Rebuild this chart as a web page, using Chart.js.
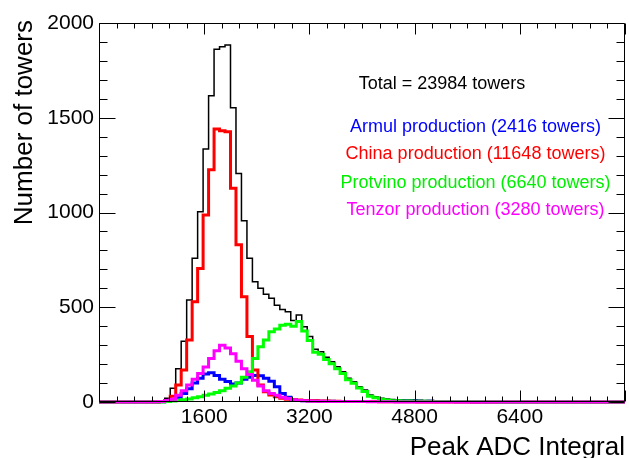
<!DOCTYPE html>
<html>
<head>
<meta charset="utf-8">
<script src="https://cdn.jsdelivr.net/npm/chart.js@4/dist/chart.umd.min.js"></script>
<style>
html,body{margin:0;padding:0;background:#ffffff;}
#wrap{width:629px;height:458px;position:relative;}
</style>
</head>
<body>
<div id="wrap"><canvas id="c" width="629" height="458"></canvas></div>
<script>
// ---- axis / binning ----
const xMin = 0;
const xMax = 8000;
const binCount = 96;
const xTickLabels = [1600, 3200, 4800, 6400];
const yTickValues = [0, 500, 1000, 1500, 2000];

// ---- histogram contents (towers per bin) ----
const totalCounts = [
  0,0,0,0,0,0,0,0,0,0,0,0,
  5,20,72,175,320,538,758,1004,1335,1616,1861,1875,1884,1553,1206,957,758,635,
  600,568,548,510,488,476,430,459,397,345,278,265,236,213,186,160,125,107,81,63,
  37,28,20,16,13,11,11,10,10,9,8,8,7,6,5,5,4,4,3,3,2,2,1,1,1,1,
  0,0,0,0,0,0,0,0,0,0,0,0,0,0,0,0,0,0,0,0
];
const armulCounts = [
  0,0,0,0,0,0,0,0,0,0,0,0,
  1,3,10,25,45,70,100,125,148,155,140,120,108,95,100,120,130,140,138,125,110,80,45,25,
  12,8,6,5,5,4,4,4,3,3,3,3,3,3,3,3,3,3,4,3,5,4,5,4,3,4,3,2,2,2,1,1,1,
  0,0,0,0,0,0,0,0,0,0,0,0,0,0,0,0,0,0,0,0,0,0,0,0,0,0,0
];
const chinaCounts = [
  0,0,0,0,0,0,0,0,0,0,0,0,
  2,8,30,90,169,327,529,705,987,1226,1440,1432,1426,1128,830,556,345,169,90,54,37,28,20,15,
  12,10,8,7,6,5,5,4,4,3,3,3,2,2,2,2,1,1,1,1,1,1,1,
  0,0,0,0,0,0,0,0,0,0,0,0,0,0,0,0,0,0,0,0,0,0,0,0,0,0,0,0,0,0,0,0,0,0,0,0,0
];
const protvinoCounts = [
  0,0,0,0,0,0,0,0,0,0,0,0,0,
  2,5,8,12,16,22,28,35,42,50,60,72,85,100,130,160,230,292,327,371,385,405,410,400,425,375,
  325,263,252,224,202,176,151,117,99,74,56,31,22,14,10,7,6,5,5,4,4,4,3,3,3,3,3,3,3,2,2,2,1,1,1,
  0,0,0,0,0,0,0,0,0,0,0,0,0,0,0,0,0,0,0,0,0,0
];
const tenzorCounts = [
  0,0,0,0,0,0,0,0,0,0,0,
  1,3,8,15,35,60,90,120,150,185,230,270,300,285,255,215,175,145,115,85,60,45,35,25,18,
  12,8,6,5,4,4,3,3,3,2,2,2,2,2,1,1,1,1,1,
  0,0,0,0,0,0,0,0,0,0,0,0,0,0,0,0,0,0,0,0,0,0,0,0,0,0,0,0,0,0,0,0,0,0,0,0,0,0,0,0,0
];

// ---- labels ----
const seriesNames = ['Armul production (2416 towers)', 'China production (11648 towers)',
                     'Protvino production (6640 towers)', 'Tenzor production (3280 towers)'];
const totalLabel = 'Total = 23984 towers';
const xTitle = 'Peak ADC Integral';
const yTitle = 'Number of towers';

// ---- build histogram outlines ----
const binEdges = Array.from({length: binCount + 1}, (_, i) => xMin + i * (xMax - xMin) / binCount);
function histPoints(vals) {
  const pts = vals.slice(0, binCount).map((v, i) => ({x: binEdges[i], y: v}));
  pts.push({x: binEdges[binCount], y: vals[binCount - 1]});
  return pts;
}

const FONT = "'Liberation Sans', Arial, Helvetica, sans-serif";

function ds(label, vals, color, width, order) {
  return {
    label: label, data: histPoints(vals), borderColor: color, backgroundColor: color,
    borderWidth: width, stepped: 'after', pointRadius: 0, fill: false, tension: 0,
    clip: 6, order: order, borderJoinStyle: 'miter', borderCapStyle: 'butt'
  };
}

const frameTicks = {
  id: 'frameTicks',
  afterDatasetsDraw(chart) {
    const {ctx, chartArea: a, scales: {x, y}} = chart;
    ctx.save();
    ctx.strokeStyle = '#000';
    ctx.lineWidth = 1;
    const L = Math.round(a.left) + 0.5, R = Math.round(a.right) - 0.5;
    const T = Math.round(a.top) + 0.5, B = Math.round(a.bottom) - 0.5;
    ctx.beginPath();
    ctx.rect(L, T, R - L, B - T);
    ctx.stroke();
    ctx.beginPath();
    // x ticks (bottom and top), 6 subdivisions per 1600
    for (let i = 0; i <= 30; i++) {
      const v = i * 1600 / 6;
      if (v > xMax) break;
      const px = Math.round(x.getPixelForValue(v)) + 0.5;
      const len = (i % 6 === 0) ? 11 : 5;
      ctx.moveTo(px, B); ctx.lineTo(px, B - len);
      ctx.moveTo(px, T); ctx.lineTo(px, T + len);
    }
    // y ticks (left and right)
    for (let i = 0; i <= 20; i++) {
      const v = i * 100;
      const py = Math.round(y.getPixelForValue(v)) + 0.5;
      const len = (i % 5 === 0) ? 16 : 8;
      ctx.moveTo(L, py); ctx.lineTo(L + len, py);
      ctx.moveTo(R, py); ctx.lineTo(R - len, py);
    }
    ctx.stroke();
    ctx.restore();
  },
  afterDraw(chart) {
    const ctx = chart.ctx;
    ctx.save();
    ctx.textBaseline = 'alphabetic';
    // axis titles
    ctx.fillStyle = '#000';
    ctx.font = '26px ' + FONT;
    ctx.textAlign = 'right';
    ctx.fillText(xTitle, 625, 455);
    ctx.save();
    ctx.translate(32, 20);
    ctx.rotate(-Math.PI / 2);
    ctx.textAlign = 'right';
    ctx.fillText(yTitle, 0, 0);
    ctx.restore();
    // annotations
    ctx.font = '18px ' + FONT;
    ctx.textAlign = 'center';
    ctx.fillStyle = '#000';
    ctx.fillText(totalLabel, 442, 89);
    const cols = ['#0000ff', '#ff0000', '#00ee00', '#ff00ff'];
    const bases = [131.5, 159.3, 187.5, 215.3];
    seriesNames.forEach((t, i) => {
      ctx.fillStyle = cols[i];
      ctx.fillText(t, 475.5, bases[i]);
    });
    ctx.restore();
  }
};

new Chart(document.getElementById('c'), {
  type: 'line',
  data: {
    datasets: [
      ds('Total', totalCounts, '#000000', 1.5, 5),
      ds('Armul', armulCounts, '#0000ff', 3, 4),
      ds('China', chinaCounts, '#ff0000', 3, 3),
      ds('Protvino', protvinoCounts, '#00ff00', 3, 2),
      ds('Tenzor', tenzorCounts, '#ff00ff', 3, 1)
    ]
  },
  options: {
    responsive: false,
    animation: false,
    devicePixelRatio: 1,
    layout: {padding: {top: 23, right: 4, left: 0, bottom: 0}},
    plugins: {legend: {display: false}, tooltip: {enabled: false}, title: {display: false}},
    scales: {
      x: {
        type: 'linear', min: xMin, max: xMax,
        grid: {display: false, drawTicks: false}, border: {display: false},
        afterBuildTicks: s => { s.ticks = xTickLabels.map(v => ({value: v})); },
        ticks: {color: '#000', font: {family: FONT, size: 21}, padding: 3, maxRotation: 0, autoSkip: false,
                callback: v => String(v)},
        afterFit: s => { s.height = 56; }
      },
      y: {
        type: 'linear', min: 0, max: 2000,
        grid: {display: false, drawTicks: false}, border: {display: false},
        afterBuildTicks: s => { s.ticks = yTickValues.map(v => ({value: v})); },
        ticks: {color: '#000', font: {family: FONT, size: 21}, padding: 5, autoSkip: false,
                callback: v => String(v)},
        afterFit: s => { s.width = 99; }
      }
    }
  },
  plugins: [frameTicks]
});
</script>
</body>
</html>
